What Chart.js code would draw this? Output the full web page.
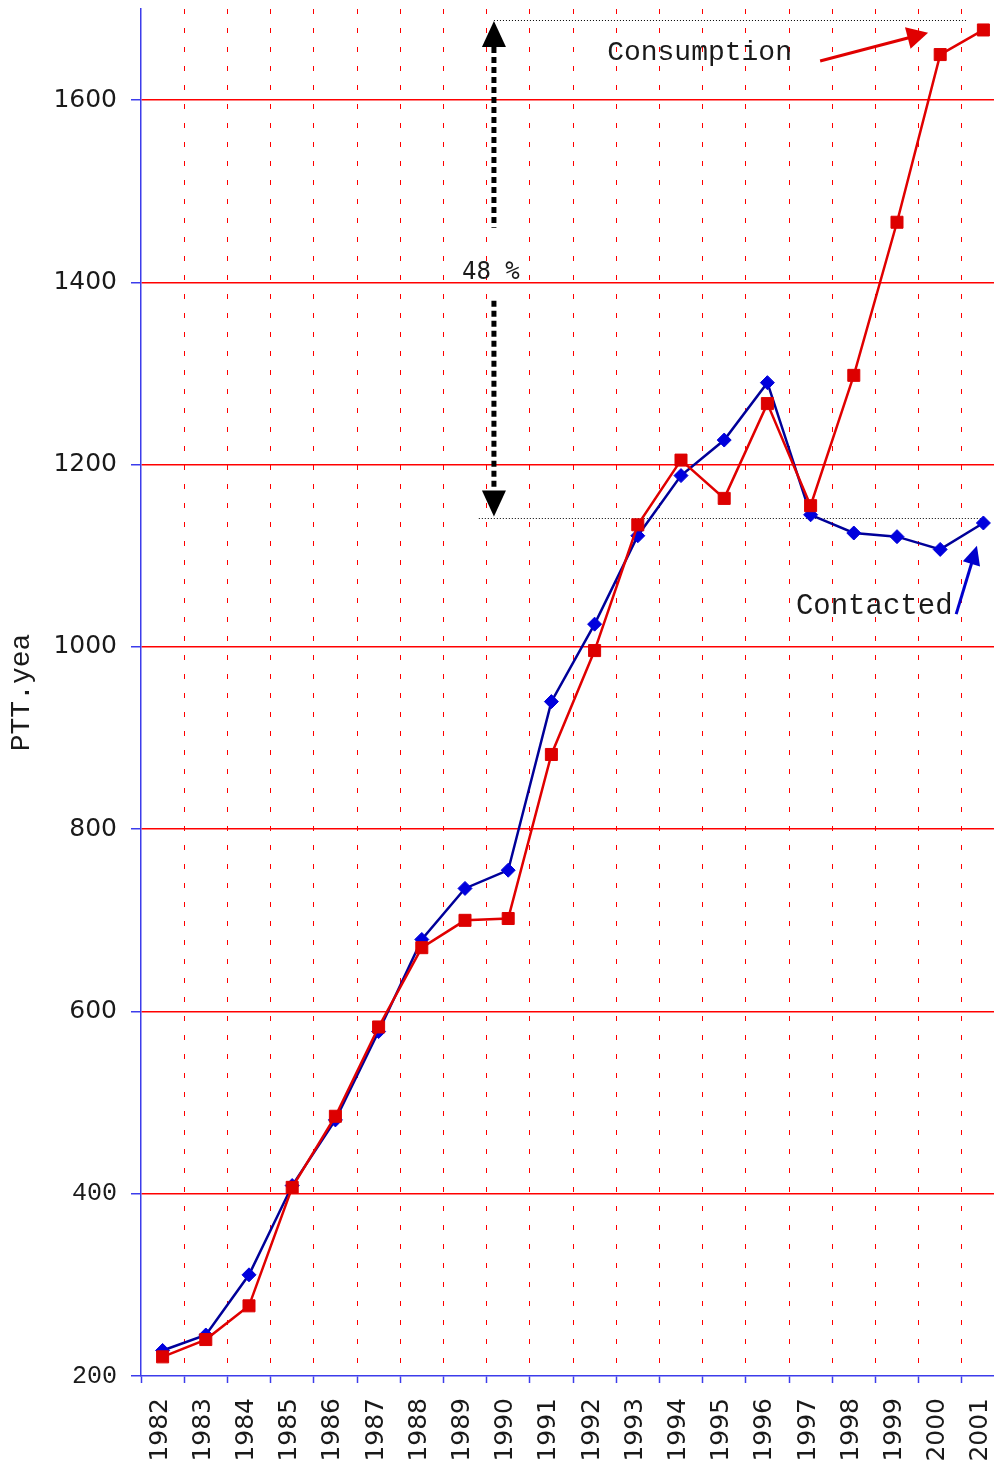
<!DOCTYPE html>
<html><head><meta charset="utf-8">
<script src="https://cdn.jsdelivr.net/npm/chart.js@4/dist/chart.umd.min.js"></script>
<style>
html,body{margin:0;padding:0;background:#fff;overflow:hidden;width:994px;height:1460px;}
#wrap{position:absolute;left:0;top:0;width:1005px;height:1470px;}
canvas{display:block;}
</style></head><body>
<div id="wrap"><canvas id="c" width="1005" height="1470"></canvas></div>
<script>
// ---- data ----
const years = ['1982','1983','1984','1985','1986','1987','1988','1989','1990','1991',
               '1992','1993','1994','1995','1996','1997','1998','1999','2000','2001'];
const contracted  = [228, 245, 311, 409, 481, 578, 679, 735, 755, 940,
                     1025, 1122, 1188, 1227, 1290, 1145, 1125, 1121, 1107, 1136];
const consumption = [221, 240, 277, 407, 485, 583, 670, 700, 702, 882,
                     996, 1134, 1205, 1163, 1267, 1155, 1298, 1466, 1650, 1677];
const seriesNames = ['Contacted', 'Consumption'];
const yMin = 200, yMax = 1700, yStep = 200;
const axisTitle = 'PTT.yea';
// annotation anchors (value levels)
const gapValues = [1688, 1141];
const gapLabel = '48 %';

const BLUE_AX = 'rgb(60,60,235)';
const RED_GRID = '#ff0000';
const NONE = 'rgba(0,0,0,0)';

const annot = {
  id: 'annot',
  beforeDatasetsDraw(chart) {
    const {ctx, scales: {x, y}} = chart;
    ctx.save();
    ctx.strokeStyle = '#000';
    ctx.lineWidth = 1;
    ctx.setLineDash([1, 2]);
    const yt = Math.round(y.getPixelForValue(gapValues[0])) + 0.5;
    const yb = Math.round(y.getPixelForValue(gapValues[1])) + 0.5;
    ctx.beginPath();
    ctx.moveTo(x.getPixelForValue(7.67), yt);
    ctx.lineTo(x.getPixelForValue(18.62), yt);
    ctx.moveTo(x.getPixelForValue(7.32), yb);
    ctx.lineTo(x.getPixelForValue(19.0), yb);
    ctx.stroke();
    ctx.restore();
  },
  afterDatasetsDraw(chart) {
    const {ctx, scales: {x, y}} = chart;
    const head = (x0, y0, x1, y1, len, w, col) => {
      const a = Math.atan2(y1 - y0, x1 - x0);
      const bx = x1 - len * Math.cos(a), by = y1 - len * Math.sin(a);
      ctx.fillStyle = col;
      ctx.beginPath();
      ctx.moveTo(x1, y1);
      ctx.lineTo(bx + w / 2 * Math.sin(a), by - w / 2 * Math.cos(a));
      ctx.lineTo(bx - w / 2 * Math.sin(a), by + w / 2 * Math.cos(a));
      ctx.closePath();
      ctx.fill();
    };
    const arrow = (x0, y0, x1, y1, len, w, col, lw) => {
      const a = Math.atan2(y1 - y0, x1 - x0);
      ctx.strokeStyle = col; ctx.lineWidth = lw; ctx.setLineDash([]);
      ctx.beginPath(); ctx.moveTo(x0, y0);
      ctx.lineTo(x1 - (len - 2) * Math.cos(a), y1 - (len - 2) * Math.sin(a));
      ctx.stroke();
      head(x0, y0, x1, y1, len, w, col);
    };
    ctx.save();
    const ax = x.getPixelForValue(7.67);
    const tTop = y.getPixelForValue(gapValues[0]) + 1;
    const tBot = y.getPixelForValue(gapValues[1]) - 2;
    head(ax, tTop + 30, ax, tTop, 26, 24, '#000');
    head(ax, tBot - 30, ax, tBot, 26, 24, '#000');
    ctx.strokeStyle = '#000'; ctx.lineWidth = 5; ctx.setLineDash([6, 4]);
    ctx.beginPath();
    ctx.moveTo(ax, tTop + 26); ctx.lineTo(ax, y.getPixelForValue(1460));
    ctx.moveTo(ax, y.getPixelForValue(1380)); ctx.lineTo(ax, tBot - 26);
    ctx.stroke();
    ctx.setLineDash([]);
    ctx.fillStyle = '#1a1a1a';
    ctx.font = '24px "DejaVu Sans Mono"';
    ctx.textAlign = 'center'; ctx.textBaseline = 'alphabetic';
    ctx.fillText(gapLabel, x.getPixelForValue(7.60), y.getPixelForValue(1404));
    ctx.textAlign = 'left';
    ctx.font = '28px "Liberation Mono"';
    ctx.fillText(seriesNames[1], x.getPixelForValue(10.29), y.getPixelForValue(1644));
    ctx.font = '29px "Liberation Mono"';
    ctx.fillText(seriesNames[0], x.getPixelForValue(14.66), y.getPixelForValue(1036));
    arrow(x.getPixelForValue(15.22), y.getPixelForValue(1643), x.getPixelForValue(17.72), y.getPixelForValue(1674), 21, 22, '#e00000', 3);
    arrow(x.getPixelForValue(18.37), y.getPixelForValue(1036), x.getPixelForValue(18.85), y.getPixelForValue(1111), 19, 18, '#0000cc', 3);
    ctx.restore();
  }
};

new Chart(document.getElementById('c'), {
  type: 'line',
  data: {
    labels: years,
    datasets: [
      { label: seriesNames[0], data: contracted, borderColor: '#000099', borderWidth: 2.5,
        pointStyle: 'rectRot', pointRadius: 7, pointBackgroundColor: '#0000dd',
        pointBorderColor: '#0000dd', pointBorderWidth: 1, tension: 0, order: 2 },
      { label: seriesNames[1], data: consumption, borderColor: '#e00000', borderWidth: 2.5,
        pointStyle: 'rect', pointRadius: 8.5, pointBackgroundColor: '#dd0000',
        pointBorderColor: '#dd0000', pointBorderWidth: 1, tension: 0, order: 1 }
    ]
  },
  options: {
    responsive: false,
    animation: false,
    layout: { autoPadding: false, padding: { top: 9, left: 0, right: 0, bottom: 0 } },
    plugins: { legend: { display: false }, tooltip: { enabled: false } },
    scales: {
      x: {
        type: 'category',
        offset: true,
        grid: {
          offset: true,
          color: c => c.index === 0 ? NONE : RED_GRID,
          lineWidth: 1,
          tickColor: BLUE_AX,
          tickLength: 7,
          tickWidth: 1.5
        },
        border: { display: true, color: BLUE_AX, width: 1.5, dash: [5, 14] },
        ticks: {
          minRotation: 90, maxRotation: 90, autoSkip: false,
          padding: 15, labelOffset: -2.5,
          color: '#1a1a1a',
          font: { family: '"DejaVu Sans"', size: 25 }
        },
        afterFit(s) { s.height = 94; s.paddingLeft = 0; s.paddingRight = 0; }
      },
      y: {
        type: 'linear',
        min: yMin, max: yMax,
        grid: {
          color: c => (c.tick && c.tick.value === yMin) ? NONE : RED_GRID,
          lineWidth: 1.5,
          tickColor: BLUE_AX,
          tickLength: 10,
          tickWidth: 1.5
        },
        border: { display: true, color: BLUE_AX, width: 1.5 },
        ticks: {
          stepSize: yStep, includeBounds: false, padding: 14,
          color: '#1a1a1a',
          callback: v => String(v),
          font: c => (c.tick && c.tick.value <= 400)
            ? { family: '"Liberation Mono"', size: 25 }
            : { family: '"DejaVu Sans"', size: 25 }
        },
        title: {
          display: true, text: axisTitle, color: '#1a1a1a',
          font: { family: '"Liberation Mono"', size: 28 },
          padding: { top: 5, bottom: 0 }
        },
        afterFit(s) { s.width = 141; s.paddingTop = 0; s.paddingBottom = 0; }
      }
    }
  },
  plugins: [annot]
});
</script>
</body></html>
